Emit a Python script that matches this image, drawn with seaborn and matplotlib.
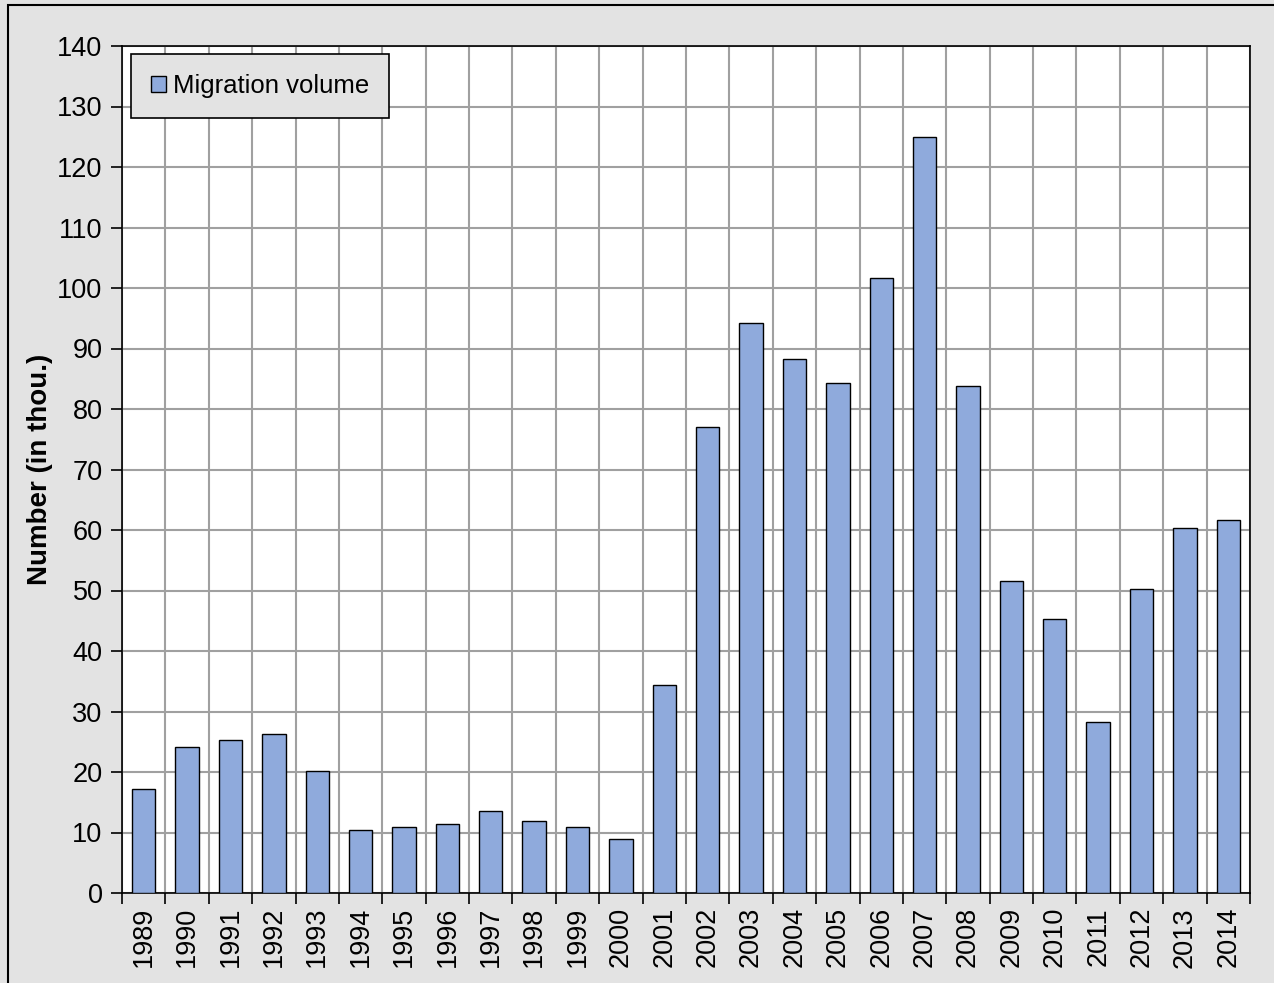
import numpy as np
import pandas as pd
import matplotlib
matplotlib.use('Agg')
import matplotlib.pyplot as plt
from matplotlib.patches import Rectangle
from matplotlib.ticker import MultipleLocator, FixedLocator
import seaborn as sns

years = [str(y) for y in range(1989, 2015)]
migration = [17.2, 24.1, 25.3, 26.3, 20.2, 10.4, 10.9, 11.4, 13.6, 11.9, 10.9, 8.9,
             34.3, 77.0, 94.2, 88.3, 84.3, 101.7, 125.0, 83.8, 51.6, 45.3, 28.2,
             50.2, 60.4, 61.6]

df = pd.DataFrame({'year': years, 'value': migration})

sns.set_theme(style='white')
plt.rcParams['font.family'] = ['Liberation Sans', 'DejaVu Sans']
plt.rcParams['text.color'] = 'black'
plt.rcParams['axes.labelcolor'] = 'black'

bg = '#e3e3e3'
fig = plt.figure(figsize=(12.74, 9.83), dpi=100, facecolor=bg)
ax = fig.add_axes([122 / 1274, 1 - 893 / 983, (1250 - 122) / 1274, (893 - 46) / 983])
ax.set_facecolor('white')

# outer frame (cropped on right and bottom in the reference)
fig.patches.append(Rectangle((8 / 1274, -0.01), 1.02, 1 - 5 / 983 + 0.01,
                             transform=fig.transFigure, fill=False,
                             edgecolor='black', linewidth=1.5, zorder=0))

sns.barplot(data=df, x='year', y='value', color='#8FAADC', saturation=1,
            width=0.54, edgecolor='black', linewidth=1.0, ax=ax,
            label='Migration volume', zorder=3)

ax.set_xlim(-0.5, len(years) - 0.5)
ax.set_ylim(0, 140)
ax.yaxis.set_major_locator(MultipleLocator(10))

# vertical grid and ticks at category boundaries
ax.xaxis.set_minor_locator(FixedLocator(np.arange(-0.5, len(years), 1.0)))
ax.tick_params(axis='x', which='major', length=0, labelsize=19.5, labelrotation=90, pad=10,
               labelcolor='black')
ax.tick_params(axis='x', which='minor', length=8, width=1.2, color='black', bottom=True)
ax.tick_params(axis='y', which='major', length=8, width=1.2, color='black', labelsize=19.5,
               left=True, pad=6, labelcolor='black')
ax.grid(axis='y', which='major', color='#a0a0a0', linewidth=1.5, zorder=0)
ax.grid(axis='x', which='minor', color='#a0a0a0', linewidth=1.5, zorder=0)
ax.grid(axis='x', which='major', visible=False)
ax.set_axisbelow(True)

for s in ax.spines.values():
    s.set_visible(True)
    s.set_color('black')
    s.set_linewidth(1.2)

ax.set_xlabel('')
ax.set_ylabel('Number (in thou.)', fontsize=20, fontweight='bold', labelpad=3, color='black')

leg = ax.legend(loc='upper left', bbox_to_anchor=(9 / 1128, 1 - 8 / 847),
                fontsize=18.5, frameon=True, fancybox=False, facecolor=bg,
                edgecolor='black', framealpha=1, borderpad=0.78,
                handlelength=0.6, handleheight=0.6, handletextpad=0.25,
                borderaxespad=0)
leg.get_frame().set_linewidth(1.2)
for t in leg.get_texts():
    t.set_color('black')

fig.savefig('out.png', dpi=100, facecolor=bg)
